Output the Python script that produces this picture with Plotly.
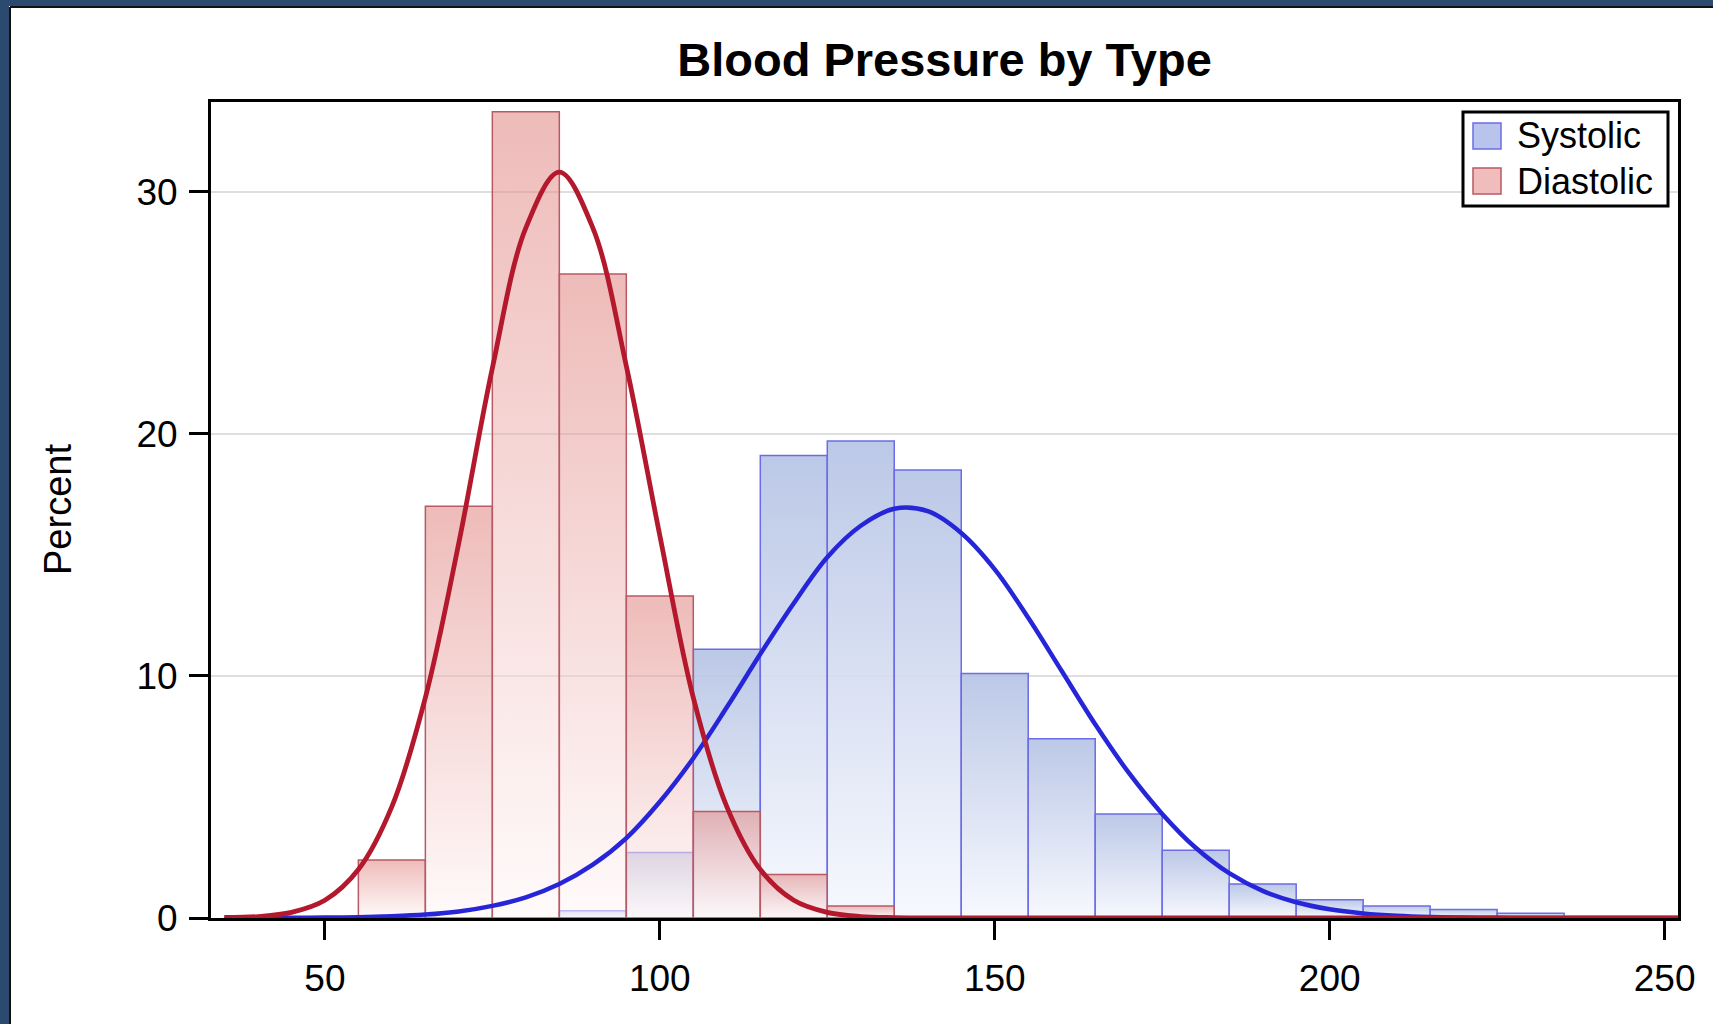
import plotly.graph_objects as go

# ---------------- data ----------------
bin_width = 10
dia_centers = [60, 70, 80, 90, 100, 110, 120, 130]
dia_pct = [2.4, 17.0, 33.3, 26.6, 13.3, 4.4, 1.8, 0.5]

sys_centers = [90, 100, 110, 120, 130, 140, 150, 160, 170, 180, 190, 200, 210, 220, 230]
sys_pct = [0.3, 2.7, 11.1, 19.1, 19.7, 18.5, 10.1, 7.4, 4.3, 2.8, 1.4, 0.75, 0.5, 0.35, 0.2]

curve_x = [35, 40, 45, 50, 55, 60, 65, 70, 75, 80,
           85, 90, 95, 100, 105, 110, 115, 120, 125, 130,
           135, 140, 145, 150, 155, 160, 165, 170, 175, 180,
           185, 190, 195, 200, 205, 210, 215, 220, 225, 230,
           235, 240, 245, 250, 255]
sys_curve = [0.0, 0.0, 0.01, 0.02, 0.03, 0.07, 0.14, 0.27, 0.5, 0.85,
             1.4, 2.2, 3.3, 4.8, 6.6, 8.7, 10.9, 13.0, 14.9, 16.2,
             16.9, 16.8, 15.9, 14.4, 12.4, 10.2, 8.0, 6.0, 4.3, 2.9,
             1.85, 1.12, 0.65, 0.36, 0.19, 0.09, 0.04, 0.02, 0.01, 0.0,
             0.0, 0.0, 0.0, 0.0, 0.0]
dia_curve = [0.02, 0.06, 0.23, 0.73, 2.0, 4.6, 9.1, 15.5, 22.7, 28.5,
             30.8, 28.5, 22.8, 15.8, 9.1, 4.6, 2.0, 0.73, 0.23, 0.06,
             0.015, 0.0, 0.0, 0.0, 0.0, 0.0, 0.0, 0.0, 0.0, 0.0,
             0.0, 0.0, 0.0, 0.0, 0.0, 0.0, 0.0, 0.0, 0.0, 0.0,
             0.0, 0.0, 0.0, 0.0, 0.0]

x_ticks = [50, 100, 150, 200, 250]
y_ticks = [0, 10, 20, 30]
series_names = ["Systolic", "Diastolic"]

# ---------------- styling ----------------
W, H = 1713, 1024
ML, MR, MT, MB = 211, 35, 102, 106
PW, PH = W - ML - MR, H - MT - MB
FONT = "Liberation Sans, Arial, sans-serif"

sys_line = "#6c6ce6"
dia_line = "#b85a66"
sys_cs = [[0, "rgba(246,248,254,0.9)"], [1, "rgba(180,194,228,0.9)"]]
dia_cs = [[0, "rgba(255,246,246,0.55)"], [1, "rgba(224,134,130,0.56)"]]
sys_curve_color = "#2626d8"
dia_curve_color = "#b3182d"
sys_swatch = "#b8c4ec"
dia_swatch = "#f0bcbc"

fig = go.Figure()


def add_bars(centers, vals, line_color, cs, name):
    for c, v in zip(centers, vals):
        x0, x1 = c - bin_width / 2, c + bin_width / 2
        fig.add_trace(go.Scatter(
            x=[x0, x0, x1, x1, x0], y=[0, v, v, 0, 0],
            mode="lines", fill="toself", name=name, legendgroup=name,
            fillgradient=dict(type="vertical", colorscale=cs, start=0, stop=v),
            line=dict(color=line_color, width=1.5),
            showlegend=False, hoverinfo="skip"))


add_bars(sys_centers, sys_pct, sys_line, sys_cs, series_names[0])
add_bars(dia_centers, dia_pct, dia_line, dia_cs, series_names[1])

fig.add_trace(go.Scatter(x=curve_x, y=sys_curve, mode="lines", name=series_names[0] + " normal",
                         line=dict(color=sys_curve_color, width=4.5, shape="spline", smoothing=1.0),
                         showlegend=False, hoverinfo="skip"))
fig.add_trace(go.Scatter(x=curve_x, y=dia_curve, mode="lines", name=series_names[1] + " normal",
                         line=dict(color=dia_curve_color, width=4.8, shape="spline", smoothing=1.0),
                         showlegend=False, hoverinfo="skip"))


def px_x(p):
    return (p - ML) / PW


def px_y(p):
    return (H - MB - p) / PH


navy = "#2c4a70"
shapes = [
    dict(type="rect", xref="paper", yref="paper", x0=px_x(-5), x1=px_x(9), y0=px_y(H + 5), y1=px_y(-5),
         fillcolor=navy, line=dict(width=0), layer="above"),
    dict(type="rect", xref="paper", yref="paper", x0=px_x(-5), x1=px_x(W + 5), y0=px_y(6), y1=px_y(-5),
         fillcolor=navy, line=dict(width=0), layer="above"),
    dict(type="line", xref="paper", yref="paper", x0=px_x(10), x1=px_x(10), y0=px_y(H + 5), y1=px_y(7),
         line=dict(color="#111111", width=2), layer="above"),
    dict(type="line", xref="paper", yref="paper", x0=px_x(10), x1=px_x(W + 5), y0=px_y(7), y1=px_y(7),
         line=dict(color="#111111", width=2), layer="above"),
]

# legend box (drawn as layout decoration)
LG_X0, LG_X1, LG_Y0, LG_Y1 = 1463, 1668, 112, 206
shapes.append(dict(type="rect", xref="paper", yref="paper",
                   x0=px_x(LG_X0), x1=px_x(LG_X1), y0=px_y(LG_Y1), y1=px_y(LG_Y0),
                   fillcolor="white", line=dict(color="black", width=3), layer="above"))
legend_rows = [(series_names[0], sys_swatch, sys_line, 136), (series_names[1], dia_swatch, dia_line, 181)]
annotations = []
for name, fillc, linec, cy in legend_rows:
    shapes.append(dict(type="rect", xref="paper", yref="paper",
                       x0=px_x(1473), x1=px_x(1501), y0=px_y(cy + 13), y1=px_y(cy - 13),
                       fillcolor=fillc, line=dict(color=linec, width=1.5), layer="above"))
    annotations.append(dict(text=name, xref="paper", yref="paper", x=px_x(1515), y=px_y(cy),
                            xanchor="left", yanchor="middle", showarrow=False,
                            font=dict(family=FONT, size=36, color="black")))

annotations.append(dict(text="Percent", xref="paper", yref="paper", x=px_x(58), y=0.5,
                        textangle=-90, showarrow=False, xanchor="center", yanchor="middle",
                        font=dict(family=FONT, size=38, color="black")))

fig.update_layout(
    width=W, height=H,
    margin=dict(l=ML, r=MR, t=MT, b=MB, pad=0),
    paper_bgcolor="white", plot_bgcolor="white",
    font=dict(family=FONT, size=37, color="black"),
    title=dict(text="<b>Blood Pressure by Type</b>", x=0.5, xref="paper", xanchor="center",
               y=1 - 60 / H, yref="container", yanchor="middle",
               font=dict(family=FONT, size=47, color="black")),
    showlegend=False,
    xaxis=dict(type="linear", range=[33, 252], tickvals=x_ticks, ticks="outside", ticklen=19,
               tickwidth=2.5, tickcolor="black", showline=True, linecolor="black", linewidth=3,
               mirror=True, showgrid=False, zeroline=False, ticklabelstandoff=7,
               tickfont=dict(size=37)),
    yaxis=dict(range=[0, 33.7], tickvals=y_ticks, ticks="outside", ticklen=19,
               tickwidth=2.5, tickcolor="black", showline=True, linecolor="black", linewidth=3,
               mirror=True, showgrid=True, gridcolor="#dedede", gridwidth=2, zeroline=False,
               ticklabelstandoff=4, tickfont=dict(size=37)),
    annotations=annotations,
    shapes=shapes,
)

fig.write_html("out.html", config={"displayModeBar": False},
               post_script="document.body.style.margin='0';")
